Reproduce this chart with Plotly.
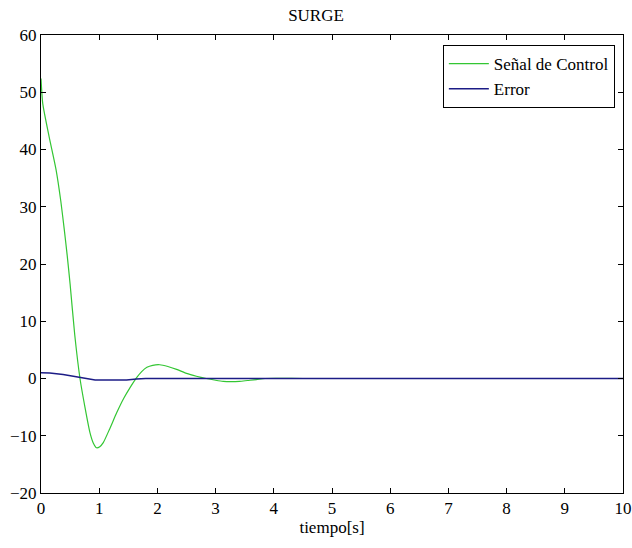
import plotly.graph_objects as go

# Time samples [s] and the two responses of the SURGE controller
t_control = [0.0, 0.03, 0.14, 0.26, 0.34, 0.40, 0.45, 0.50, 0.58, 0.67, 0.755, 0.84, 0.90, 0.955, 1.01,
             1.07, 1.18, 1.30, 1.42, 1.53, 1.64, 1.73, 1.82, 1.92, 2.04, 2.18, 2.33, 2.50, 2.67,
             2.84, 3.00, 3.13, 3.27, 3.41, 3.55, 3.70, 3.85, 4.5, 6.0, 8.0, 10.0]
u_control = [52.4, 48.0, 42.2, 36.4, 31.0, 26.0, 21.5, 16.5, 7.6, 0.0, -5.0, -9.4, -11.3, -12.1, -11.9,
             -11.2, -8.8, -6.0, -3.5, -1.6, 0.1, 1.2, 1.95, 2.3, 2.4, 2.1, 1.6, 0.9, 0.4,
             0.0, -0.3, -0.5, -0.55, -0.5, -0.35, -0.2, 0.0, 0.0, 0.0, 0.0, 0.0]

t_error = [0.0, 0.15, 0.38, 0.55, 0.67, 0.80, 0.93, 1.20, 1.47, 1.64, 1.80, 2.5, 4.0, 6.0, 8.0, 10.0]
e_error = [1.0, 0.95, 0.7, 0.4, 0.1, -0.1, -0.25, -0.25, -0.25, -0.1, 0.0, 0.0, 0.0, 0.0, 0.0, 0.0]

x_ticks = list(range(0, 11))
y_ticks = [-20, -10, 0, 10, 20, 30, 40, 50, 60]

serif = "Liberation Serif"

fig = go.Figure()
fig.add_trace(go.Scatter(x=t_control, y=u_control, mode="lines", name="Señal de Control",
                         line=dict(color="#33c633", width=1.2, shape="spline", smoothing=0.6)))
fig.add_trace(go.Scatter(x=t_error, y=e_error, mode="lines", name="Error",
                         line=dict(color="#1c1c86", width=1.4)))

axis_common = dict(showgrid=False, zeroline=False, showline=True, linecolor="black", linewidth=1,
                   mirror="ticks", ticks="inside", ticklen=5, tickcolor="black", automargin=False,
                   tickfont=dict(family=serif, size=17, color="black"))

fig.update_layout(
    template="none",
    width=632, height=548,
    margin=dict(l=41, r=9, t=35, b=55),
    paper_bgcolor="white", plot_bgcolor="white",
    font=dict(family=serif, size=17, color="black"),
    title=dict(text="SURGE", x=0.5, xanchor="center", y=0.972, yanchor="middle",
               font=dict(family=serif, size=17, color="black")),
    xaxis=dict(range=[0, 10], tickvals=x_ticks, title=dict(text="tiempo[s]", standoff=2,
               font=dict(family=serif, size=17, color="black")), **axis_common),
    yaxis=dict(range=[-20, 60], tickvals=y_ticks, **axis_common),
    legend=dict(x=0.986, xanchor="right", y=0.978, yanchor="top",
                bgcolor="white", bordercolor="black", borderwidth=1,
                font=dict(family=serif, size=17, color="black"),
                tracegroupgap=0, itemwidth=40),
    showlegend=True,
)

fig.write_html("out.html")
